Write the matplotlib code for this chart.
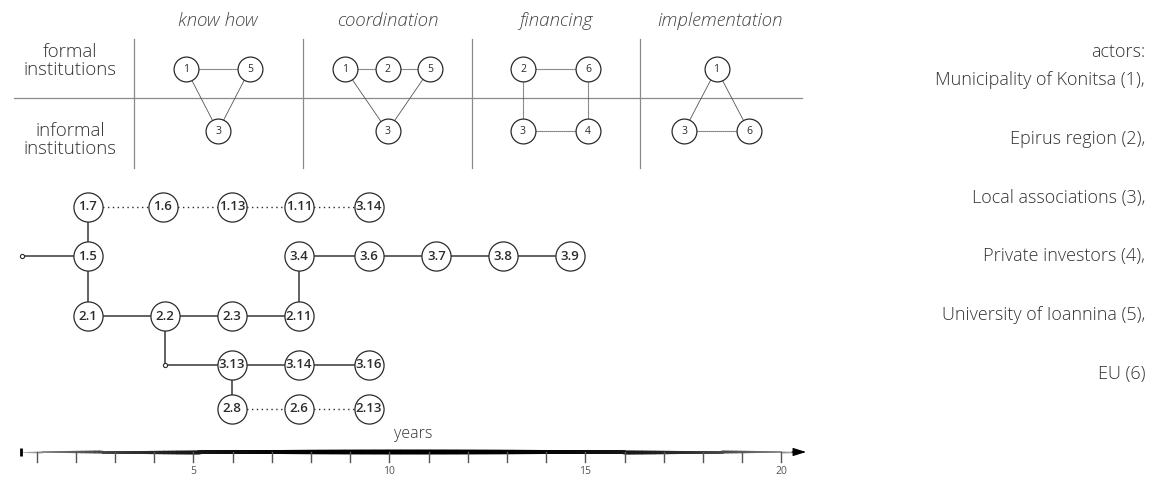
import numpy as np
import matplotlib.pyplot as plt
from matplotlib.collections import LineCollection

plt.rcParams['font.family'] = ['Open Sans', 'DejaVu Sans']

# ---- data ----
# top panels: phase, node labels, column offset (-1..1), row (0 formal, 1 informal)
phases = ['know how', 'coordination', 'financing', 'implementation']
panel_centers = [218, 387.5, 555.5, 716.5]
panel_halfwidth = [32, 42.5, 32.5, 32.5]
panel_nodes = [
    [('1', -1, 0), ('5', 1, 0), ('3', 0, 1)],
    [('1', -1, 0), ('2', 0, 0), ('5', 1, 0), ('3', 0, 1)],
    [('2', -1, 0), ('6', 1, 0), ('3', -1, 1), ('4', 1, 1)],
    [('1', 0, 0), ('3', -1, 1), ('6', 1, 1)],
]
# edges by node index: (a, b, style)
panel_edges = [
    [(0, 1, 'dot'), (0, 2, 'solid'), (1, 2, 'solid')],
    [(0, 1, 'dot'), (1, 2, 'dot'), (0, 3, 'solid'), (2, 3, 'solid')],
    [(0, 1, 'dot'), (0, 2, 'dot'), (1, 3, 'dot'), (2, 3, 'dot')],
    [(0, 1, 'solid'), (0, 2, 'solid'), (1, 2, 'dot')],
]
row_labels = ['formal\ninstitutions', 'informal\ninstitutions']

actors = ['Municipality of Konitsa (1),', 'Epirus region (2),', 'Local associations (3),',
          'Private investors (4),', 'University of Ioannina (5),', 'EU (6)']

# timeline: node labels, position in years, lane
tl_labels = ['1.7', '1.6', '1.13', '1.11', '3.14',
             '1.5', '3.4', '3.6', '3.7', '3.8', '3.9',
             '2.1', '2.2', '2.3', '2.11',
             '3.13', '3.14', '3.16',
             '2.8', '2.6', '2.13']
tl_years = [2.3, 4.22, 5.98, 7.69, 9.48,
            2.3, 7.69, 9.48, 11.2, 12.9, 14.61,
            2.3, 4.27, 5.98, 7.69,
            5.98, 7.69, 9.48,
            5.98, 7.69, 9.48]
tl_lane = [0, 0, 0, 0, 0,
           1, 1, 1, 1, 1, 1,
           2, 2, 2, 2,
           3, 3, 3,
           4, 4, 4]
lane_y = [207, 256, 316, 365, 409]
# junction points (start, branch)
junc_years = [0.62, 4.27]
junc_lane = [1, 3]
solid_edges = [('j0', 5), (0, 5), (5, 11), (11, 12), (12, 13), (13, 14), (14, 6),
               (6, 7), (7, 8), (8, 9), (9, 10), (12, 'j1'), ('j1', 15), (15, 16),
               (16, 17), (15, 18)]
dotted_edges = [(0, 1), (1, 2), (2, 3), (3, 4), (18, 19), (19, 20)]

years = np.arange(1, 21)
year_labels = [5, 10, 15, 20]

ink = '#2b2b2b'
grey = '#555555'
txt = '#333333'

fig = plt.figure(figsize=(11.63, 4.82), dpi=100)

# ---- top matrix and legend (pixel axes) ----
ax = fig.add_axes([0, 0, 1, 1])
ax.set_xlim(0, 1163)
ax.set_ylim(482, 0)
ax.axis('off')

row_y = [69, 131]
ax.plot([14, 802], [98, 98], color='#8a8a8a', lw=0.9, zorder=1)
for xb in [134, 303, 472, 640]:
    ax.plot([xb, xb], [39, 168], color='#8a8a8a', lw=0.9, zorder=1)
for lab, yy in zip(row_labels, [61, 140]):
    ax.text(70, yy, lab, ha='center', va='center', fontsize=13.5, color=txt,
            fontweight='light', linespacing=1.0)

for p, name in enumerate(phases):
    cx, hw = panel_centers[p], panel_halfwidth[p]
    ax.text(cx + (4 if p == 3 else 0), 21, name, ha='center', va='center', fontsize=13.5,
            style='italic', fontweight='light', color='#444444')
    xs = [cx + hw * n[1] for n in panel_nodes[p]]
    ys = [row_y[n[2]] for n in panel_nodes[p]]
    for a, b, st in panel_edges[p]:
        if st == 'dot':
            ax.plot([xs[a], xs[b]], [ys[a], ys[b]], color='#333333', lw=0.8,
                    ls=(0, (1, 0.8)), zorder=1)
        else:
            ax.plot([xs[a], xs[b]], [ys[a], ys[b]], color='#555555', lw=0.6, zorder=1)
    ax.scatter(xs, ys, s=320, facecolor='white', edgecolor=ink, linewidth=0.9, zorder=2)
    for n, x, y in zip(panel_nodes[p], xs, ys):
        ax.text(x, y, n[0], ha='center', va='center', fontsize=7.5, color=ink, zorder=3)

ax.text(1145, 52, 'actors:', ha='right', va='center', fontsize=13, color=txt,
        fontweight='light')
for i, a in enumerate(actors):
    ax.text(1145, 80 + 58.8 * i, a, ha='right', va='center', fontsize=13, color=txt,
            fontweight='light')

# ---- timeline (x in years) ----
tx = fig.add_axes([0, 0, 1, 1])
tx.set_xlim(2.6 / 39.2, (1163 + 2.6) / 39.2)
tx.set_ylim(482, 0)
tx.axis('off')
tx.patch.set_alpha(0)


def pos(k):
    if isinstance(k, str):
        j = int(k[1:])
        return junc_years[j], lane_y[junc_lane[j]]
    return tl_years[k], lane_y[tl_lane[k]]


for a, b in solid_edges:
    (x0, y0), (x1, y1) = pos(a), pos(b)
    if x0 != x1 and y0 != y1:
        tx.plot([x0, x0, x1], [y0, y1, y1], color=grey, lw=1.3, zorder=1)
    else:
        tx.plot([x0, x1], [y0, y1], color=grey, lw=1.3, zorder=1)
for a, b in dotted_edges:
    (x0, y0), (x1, y1) = pos(a), pos(b)
    tx.plot([x0, x1], [y0, y1], color=ink, lw=1.0, ls=(0, (1, 2.5)), zorder=1)

ny = [lane_y[l] for l in tl_lane]
tx.scatter(tl_years, ny, s=440, facecolor='white', edgecolor=ink, linewidth=0.9, zorder=2)
for lab, x, y in zip(tl_labels, tl_years, ny):
    tx.text(x, y, lab, ha='center', va='center', fontsize=9.5, color=ink, zorder=3,
            fontweight='semibold')
tx.scatter(junc_years, [lane_y[l] for l in junc_lane], s=9, facecolor='white',
           edgecolor=ink, linewidth=0.8, zorder=2)

# time axis with tapered thickness
axis_y = 452
x_start, x_end = 0.6, 20.5
xx = np.linspace(x_start, x_end, 600)
t = (xx - x_start) / (x_end - x_start)
shape = np.sin(np.pi * t) ** 0.6
segs = [[(xx[i], axis_y), (xx[i + 1], axis_y)] for i in range(len(xx) - 1)]
cols = [str(0.8 * (1 - s) ** 1.5) for s in shape[:-1]]
tx.add_collection(LineCollection(segs, linewidths=0.5 + 2.6 * shape[:-1], colors=cols,
                                 capstyle='projecting', zorder=1))
tx.annotate('', xy=(20.7, axis_y), xytext=(20.2, axis_y),
            arrowprops=dict(arrowstyle='-|>,head_length=0.8,head_width=0.25',
                            color='black', lw=0.8))
tx.plot([x_start, x_start], [448, 456], color='black', lw=2, solid_capstyle='butt')
for yr in years:
    tx.plot([yr, yr], [axis_y, 462], color=grey, lw=1.0)
for yr in year_labels:
    tx.text(yr, 472, str(yr), ha='center', va='center', fontsize=7.5, color='#555555')
tx.text(10.6, 434, 'years', ha='center', va='center', fontsize=11.5, color=txt,
        fontweight='light')

fig.savefig('out.png', dpi=100)
